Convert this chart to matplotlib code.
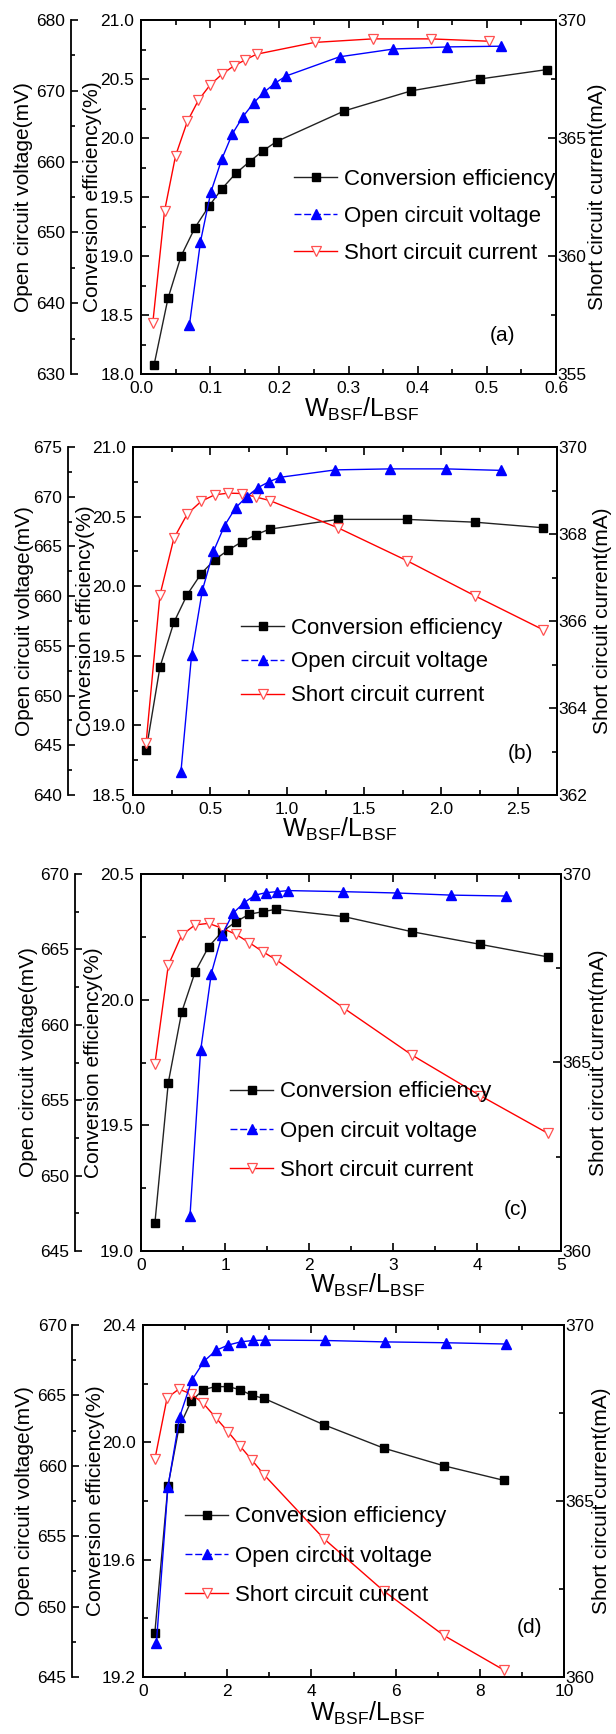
import matplotlib
matplotlib.use('Agg')
import matplotlib.pyplot as plt
from matplotlib.ticker import MultipleLocator
from matplotlib.lines import Line2D

plt.rcParams['font.family'] = ['Liberation Sans', 'DejaVu Sans']
plt.rcParams['mathtext.fontset'] = 'custom'
plt.rcParams['mathtext.rm'] = 'Liberation Sans'
plt.rcParams['mathtext.it'] = 'Liberation Sans:italic'

# ---- data ----
# panel (a)
a_x_eff = [0.019, 0.039, 0.058, 0.078, 0.098, 0.117, 0.137, 0.157, 0.176, 0.196, 0.294, 0.391, 0.490, 0.587]
a_eff = [18.08, 18.64, 19.00, 19.24, 19.42, 19.57, 19.70, 19.80, 19.89, 19.97, 20.23, 20.40, 20.50, 20.58]
a_x_voc = [0.070, 0.086, 0.101, 0.117, 0.132, 0.147, 0.163, 0.178, 0.194, 0.210, 0.287, 0.365, 0.443, 0.521]
a_voc = [636.9, 648.7, 655.7, 660.4, 663.9, 666.3, 668.3, 669.8, 671.1, 672.1, 674.8, 675.9, 676.2, 676.3]
a_x_isc = [0.017, 0.034, 0.050, 0.067, 0.083, 0.100, 0.117, 0.134, 0.150, 0.167, 0.251, 0.335, 0.419, 0.503]
a_isc = [357.15, 361.9, 364.25, 365.7, 366.6, 367.25, 367.7, 368.05, 368.3, 368.55, 369.05, 369.2, 369.2, 369.1]

# panel (b)
b_x_eff = [0.085, 0.175, 0.265, 0.352, 0.442, 0.529, 0.619, 0.707, 0.797, 0.886, 1.331, 1.775, 2.217, 2.659]
b_eff = [18.82, 19.42, 19.74, 19.94, 20.09, 20.19, 20.26, 20.32, 20.37, 20.41, 20.48, 20.48, 20.46, 20.42]
b_x_voc = [0.311, 0.380, 0.450, 0.522, 0.594, 0.666, 0.738, 0.809, 0.881, 0.953, 1.313, 1.670, 2.027, 2.384]
b_voc = [642.35, 654.1, 660.6, 664.5, 667.1, 668.9, 670.0, 670.9, 671.5, 671.95, 672.7, 672.8, 672.8, 672.65]
b_x_isc = [0.085, 0.175, 0.265, 0.352, 0.442, 0.529, 0.619, 0.707, 0.797, 0.886, 1.331, 1.775, 2.217, 2.659]
b_isc = [363.2, 366.6, 367.9, 368.46, 368.75, 368.9, 368.94, 368.93, 368.85, 368.77, 368.14, 367.39, 366.58, 365.8]

# panel (c)
c_x_eff = [0.165, 0.325, 0.484, 0.644, 0.804, 0.964, 1.129, 1.289, 1.449, 1.613, 2.422, 3.231, 4.040, 4.845]
c_eff = [19.11, 19.67, 19.95, 20.11, 20.21, 20.27, 20.31, 20.34, 20.35, 20.36, 20.33, 20.27, 20.22, 20.17]
c_x_voc = [0.583, 0.710, 0.837, 0.964, 1.096, 1.228, 1.359, 1.486, 1.618, 1.750, 2.399, 3.048, 3.692, 4.341]
c_voc = [647.3, 658.3, 663.4, 665.95, 667.4, 668.1, 668.6, 668.76, 668.83, 668.9, 668.83, 668.74, 668.6, 668.54]
c_x_isc = [0.165, 0.325, 0.484, 0.644, 0.804, 0.969, 1.129, 1.289, 1.449, 1.613, 2.422, 3.231, 4.040, 4.845]
c_isc = [364.96, 367.58, 368.38, 368.65, 368.69, 368.56, 368.4, 368.18, 367.94, 367.72, 366.43, 365.19, 364.12, 363.12]

# panel (d)
d_x_eff = [0.281, 0.591, 0.854, 1.144, 1.435, 1.726, 2.017, 2.298, 2.589, 2.871, 4.296, 5.722, 7.148, 8.583]
d_eff = [19.35, 19.85, 20.05, 20.14, 20.18, 20.19, 20.19, 20.18, 20.16, 20.15, 20.06, 19.98, 19.92, 19.87]
d_x_voc = [0.319, 0.591, 0.872, 1.163, 1.454, 1.735, 2.026, 2.317, 2.608, 2.889, 4.325, 5.750, 7.186, 8.612]
d_voc = [647.44, 658.46, 663.5, 666.1, 667.44, 668.2, 668.58, 668.8, 668.9, 668.93, 668.9, 668.8, 668.74, 668.65]
d_x_isc = [0.281, 0.572, 0.854, 1.144, 1.435, 1.726, 2.017, 2.298, 2.589, 2.871, 4.296, 5.722, 7.148, 8.583]
d_isc = [366.18, 367.93, 368.18, 368.04, 367.77, 367.37, 366.97, 366.57, 366.16, 365.75, 363.93, 362.44, 361.18, 360.19]

labels = ['Conversion efficiency', 'Open circuit voltage', 'Short circuit current']

W, H = 616, 1734
fig = plt.figure(figsize=(W / 100, H / 100), dpi=100)

panels = [
    dict(tag='(a)', px=(141, 20, 556, 374), outer=50.4,
         data=(a_x_eff, a_eff, a_x_voc, a_voc, a_x_isc, a_isc),
         xlim=(0, 0.6), xmaj=0.1, xmin=0.05,
         elim=(18.0, 21.0), emaj=0.5, emin=0.25,
         vlim=(630, 680), vmaj=10, vmin=5,
         ilim=(355, 370), imaj=5, imin=2.5,
         labx=(-0.282, -0.116, 1.101), xlab=(0.532, -0.062),
         leg=(0.369, 0.58, 0.72), tagpos=(0.872, 0.11)),
    dict(tag='(b)', px=(133, 447, 557, 795), outer=46.8,
         data=(b_x_eff, b_eff, b_x_voc, b_voc, b_x_isc, b_isc),
         xlim=(0, 2.75), xmaj=0.5, xmin=0.25,
         elim=(18.5, 21.0), emaj=0.5, emin=0.25,
         vlim=(640, 675), vmaj=5, vmin=2.5,
         ilim=(362, 370), imaj=2, imin=1,
         labx=(-0.257, -0.113, 1.108), xlab=(0.488, -0.06),
         leg=(0.255, 0.51, 0.58), tagpos=(0.913, 0.12)),
    dict(tag='(c)', px=(141, 874, 561, 1251), outer=47.5,
         data=(c_x_eff, c_eff, c_x_voc, c_voc, c_x_isc, c_isc),
         xlim=(0, 5), xmaj=1, xmin=0.5,
         elim=(19.0, 20.5), emaj=0.5, emin=0.25,
         vlim=(645, 670), vmaj=5, vmin=2.5,
         ilim=(360, 370), imaj=5, imin=2.5,
         labx=(-0.269, -0.114, 1.090), xlab=(0.54, -0.055),
         leg=(0.212, 0.45, 0.82), tagpos=(0.893, 0.109)),
    dict(tag='(d)', px=(143, 1325, 564, 1677), outer=51.0,
         data=(d_x_eff, d_eff, d_x_voc, d_voc, d_x_isc, d_isc),
         xlim=(0, 10), xmaj=2, xmin=1,
         elim=(19.2, 20.4), emaj=0.4, emin=0.2,
         vlim=(645, 670), vmaj=5, vmin=2.5,
         ilim=(360, 370), imaj=5, imin=2.5,
         labx=(-0.281, -0.114, 1.088), xlab=(0.532, -0.065),
         leg=(0.10, 0.485, 0.82), tagpos=(0.919, 0.142)),
]

blk = '#000000'
blu = '#0000ff'
red = '#ff0000'

for p in panels:
    x0, y0, x1, y1 = p['px']
    ax = fig.add_axes([x0 / W, 1 - y1 / H, (x1 - x0) / W, (y1 - y0) / H])
    ax_r = ax.twinx()
    ax_v = ax.twinx()
    xe, ye, xv, yv, xi, yi = p['data']

    ax.plot(xe, ye, '-', color='#222222', lw=1.0, marker='s', ms=5.5, mfc=blk, mec=blk)
    ax_r.plot(xi, yi, '-', color=red, lw=1.0, marker='v', ms=7, mfc='white', mec='#ff5050', mew=0.9)
    ax_v.plot(xv, yv, '-', color=blu, lw=1.0, marker='^', ms=7, mfc=blu, mec=blu)

    ax.set_xlim(*p['xlim'])
    ax.set_ylim(*p['elim'])
    ax_r.set_ylim(*p['ilim'])
    ax_v.set_ylim(*p['vlim'])

    ax.xaxis.set_major_locator(MultipleLocator(p['xmaj']))
    ax.xaxis.set_minor_locator(MultipleLocator(p['xmin']))
    ax.yaxis.set_major_locator(MultipleLocator(p['emaj']))
    ax.yaxis.set_minor_locator(MultipleLocator(p['emin']))
    ax_r.yaxis.set_major_locator(MultipleLocator(p['imaj']))
    ax_r.yaxis.set_minor_locator(MultipleLocator(p['imin']))
    ax_v.yaxis.set_major_locator(MultipleLocator(p['vmaj']))
    ax_v.yaxis.set_minor_locator(MultipleLocator(p['vmin']))

    # outer voltage axis
    ax_v.spines['left'].set_position(('outward', p['outer']))
    ax_v.spines['left'].set_visible(True)
    for s in ['right', 'top', 'bottom']:
        ax_v.spines[s].set_visible(False)
    ax_v.yaxis.set_ticks_position('left')
    ax_v.yaxis.set_label_position('left')

    for a in (ax, ax_r, ax_v):
        for s in a.spines.values():
            s.set_linewidth(1.3)
    ax.tick_params(which='both', direction='in', top=True, right=False, width=1.2, labelsize=12.5, pad=5)
    ax.tick_params(which='major', length=6)
    ax.tick_params(which='minor', length=3.5)
    ax_r.tick_params(which='both', direction='in', width=1.2, labelsize=12.5, pad=1)
    ax_r.tick_params(which='major', length=6)
    ax_r.tick_params(which='minor', length=3.5)
    ax_v.tick_params(which='both', direction='in', width=1.2, labelsize=12.5, pad=4)
    ax_v.tick_params(which='major', length=5)
    ax_v.tick_params(which='minor', length=3)

    lv, le, li = p['labx']
    ax_v.set_ylabel('Open circuit voltage(mV)', fontsize=15, va='center', ha='center')
    ax_v.yaxis.set_label_coords(lv, 0.5)
    ax.set_ylabel('Conversion efficiency(%)', fontsize=15, va='center', ha='center')
    ax.yaxis.set_label_coords(le, 0.5)
    ax_r.set_ylabel('Short circuit current(mA)', fontsize=15, va='center', ha='center')
    ax_r.yaxis.set_label_coords(li, 0.5)

    ax.set_xlabel(r'$\mathregular{W_{BSF}/L_{BSF}}$', fontsize=18)
    ax.xaxis.set_label_coords(*p['xlab'])

    ax.text(p['tagpos'][0], p['tagpos'][1], p['tag'], transform=ax.transAxes,
            fontsize=15, ha='center', va='center')

    handles = [
        Line2D([], [], color='#222222', lw=1.0, marker='s', ms=5.5, mfc=blk, mec=blk),
        Line2D([], [], color=blu, lw=1.0, ls=(0, (5, 2)), marker='^', ms=7, mfc=blu, mec=blu),
        Line2D([], [], color=red, lw=1.0, marker='v', ms=7, mfc='white', mec='#ff5050', mew=0.9),
    ]
    lx, ly, sp = p['leg']
    ax_v.legend(handles, labels, loc='upper left', bbox_to_anchor=(lx, ly), frameon=False,
                fontsize=16, handlelength=1.95, handletextpad=0.3, labelspacing=sp,
                borderpad=0, borderaxespad=0)

fig.savefig('out.png', dpi=100)
